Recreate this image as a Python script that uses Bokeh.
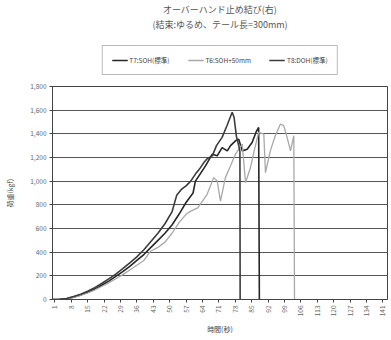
import math
from bokeh.plotting import figure
from bokeh.layouts import column
from bokeh.models import (Title, Legend, LegendItem, FixedTicker, NumeralTickFormatter, Range1d)
from bokeh.embed import file_html
from bokeh.resources import INLINE

# ---- data ----
title_lines = ["オーバーハンド止め結び(右)", "(結束:ゆるめ、テール長=300mm)"]
series_names = ["T7:SOH(標準)", "T6:SOH+50mm", "T8:DOH(標準)"]
x_ticks = [1, 8, 15, 22, 29, 36, 43, 50, 57, 64, 71, 78, 85, 92, 99, 106, 113, 120, 127, 134, 141]
y_ticks = [0, 200, 400, 600, 800, 1000, 1200, 1400, 1600, 1800]

t7_t = [0, 3, 6, 9, 12, 15, 18, 21, 24, 27, 30, 33, 36, 39, 42, 45, 48, 51, 54, 57, 60,
        61, 63, 65.3, 68.2, 70.3, 72.4, 74.6, 76, 78.1, 79.5, 81, 83.1, 85.2, 87, 88, 88.3]
t7_v = [0, 2, 6, 20, 38, 60, 88, 120, 155, 195, 235, 280, 330, 380, 440, 500, 560, 630, 720, 820, 900,
        1000, 1060, 1129, 1228, 1214, 1284, 1256, 1300, 1341, 1355, 1256, 1270, 1327, 1420, 1454, 0]

t6_t = [0, 3, 6, 9, 12, 15, 18, 21, 24, 27, 30, 33, 36, 39, 42, 45, 48, 51, 54, 57, 59, 62, 66,
        68.8, 70.3, 71.7, 73.8, 76, 78.1, 81, 82.4, 84.5, 86, 88, 90.2, 90.9, 93, 95, 97.3, 98.7,
        100, 101.6, 103, 103.3]
t6_v = [0, 1, 5, 18, 35, 55, 80, 110, 140, 175, 210, 250, 290, 330, 410, 440, 485, 560, 650, 720, 747, 775, 889,
        1030, 1002, 832, 1030, 1130, 1228, 1313, 987, 1115, 1250, 1412, 1398, 1072, 1256, 1380, 1483, 1469,
        1380, 1256, 1384, 0]

t8_t = [0, 3, 6, 9, 12, 15, 18, 21, 24, 27, 30, 33, 36, 39, 42, 45, 48, 51, 53, 55, 57, 59, 61,
        63, 64.6, 66, 68.2, 70, 72.4, 74.5, 76.7, 77.5, 78.5, 79.5, 80, 80.1]
t8_v = [0, 2, 8, 25, 45, 70, 100, 135, 175, 215, 260, 310, 360, 420, 490, 560, 640, 740, 880, 930, 960, 1000, 1060,
        1110, 1157, 1190, 1214, 1300, 1370, 1470, 1582, 1540, 1380, 1300, 1250, 0]

FONT = "Noto Sans CJK JP"
W = 389
HEAD_H = 82
MAIN_H = 256

colors = ["#262626", "#a8a8a8", "#3c3c3c"]
widths = [1.6, 1.3, 1.6]
series = [(t7_t, t7_v), (t6_t, t6_v), (t8_t, t8_v)]

# ---------- header: titles + legend ----------
head = figure(width=W, height=HEAD_H, output_backend="svg", toolbar_location=None,
              x_range=Range1d(-2, -1), y_range=Range1d(-2, -1),
              min_border_left=0, min_border_right=0, min_border_top=0, min_border_bottom=0)
head.axis.visible = False
head.grid.visible = False
head.outline_line_color = None
head.background_fill_color = "white"
head.border_fill_color = "white"
# same series drawn off-range in the header, only to feed its legend
hr = [head.line(t, v, line_color=c, line_width=w) for (t, v), c, w in zip(series, colors, widths)]
legend = Legend(items=[LegendItem(label=n, renderers=[r]) for n, r in zip(series_names, hr)],
                orientation="horizontal", location="bottom_center",
                label_text_font=FONT, label_text_font_size="6.5px", label_text_color="#444444",
                glyph_width=16, glyph_height=8, label_standoff=2, spacing=18,
                padding=9, margin=7,
                border_line_color="#777777", border_line_width=1,
                background_fill_alpha=1.0)
head.add_layout(legend, "center")
for line in reversed(title_lines):
    head.add_layout(Title(text=line, align="center", text_font=FONT, text_font_size="9px",
                          text_font_style="normal", text_color="#555555",
                          standoff=0, offset=0), "above")

# ---------- main chart ----------
p = figure(width=W, height=MAIN_H, output_backend="svg", toolbar_location=None,
           x_range=Range1d(0, 143), y_range=Range1d(0, 1800),
           min_border_left=52, min_border_right=2, min_border_top=4, min_border_bottom=39)
p.background_fill_color = "white"
p.border_fill_color = "white"
p.outline_line_color = "#444444"
p.outline_line_width = 1

for (t, v), c, w in zip(series, colors, widths):
    p.line(t, v, line_color=c, line_width=w)

p.xaxis.ticker = FixedTicker(ticks=x_ticks)
p.xaxis.major_label_orientation = math.pi / 2
p.yaxis.ticker = FixedTicker(ticks=y_ticks)
p.yaxis.formatter = NumeralTickFormatter(format="0,0")
for ax in (p.xaxis[0], p.yaxis[0]):
    ax.major_label_text_font = FONT
    ax.major_label_text_font_size = "6.5px"
    ax.major_label_text_color = "#666666"
    ax.axis_label_text_font = FONT
    ax.axis_label_text_font_size = "7px"
    ax.axis_label_text_font_style = "normal"
    ax.axis_label_text_color = "#444444"
    ax.axis_line_color = "#444444"
    ax.major_tick_line_color = "#444444"
    ax.major_tick_in = 0
    ax.major_tick_out = 3
    ax.minor_tick_line_color = None
    ax.major_label_standoff = 3
p.xaxis.axis_label = "時間(秒)"
p.yaxis.axis_label = "荷重(kgf)"
p.xaxis.axis_label_standoff = 5
p.yaxis.axis_label_standoff = 12

p.xgrid.grid_line_color = None
p.ygrid.grid_line_color = "#555555"
p.ygrid.grid_line_width = 1

layout = column(head, p, spacing=0)
open("out.html", "w").write(file_html(layout, INLINE))
